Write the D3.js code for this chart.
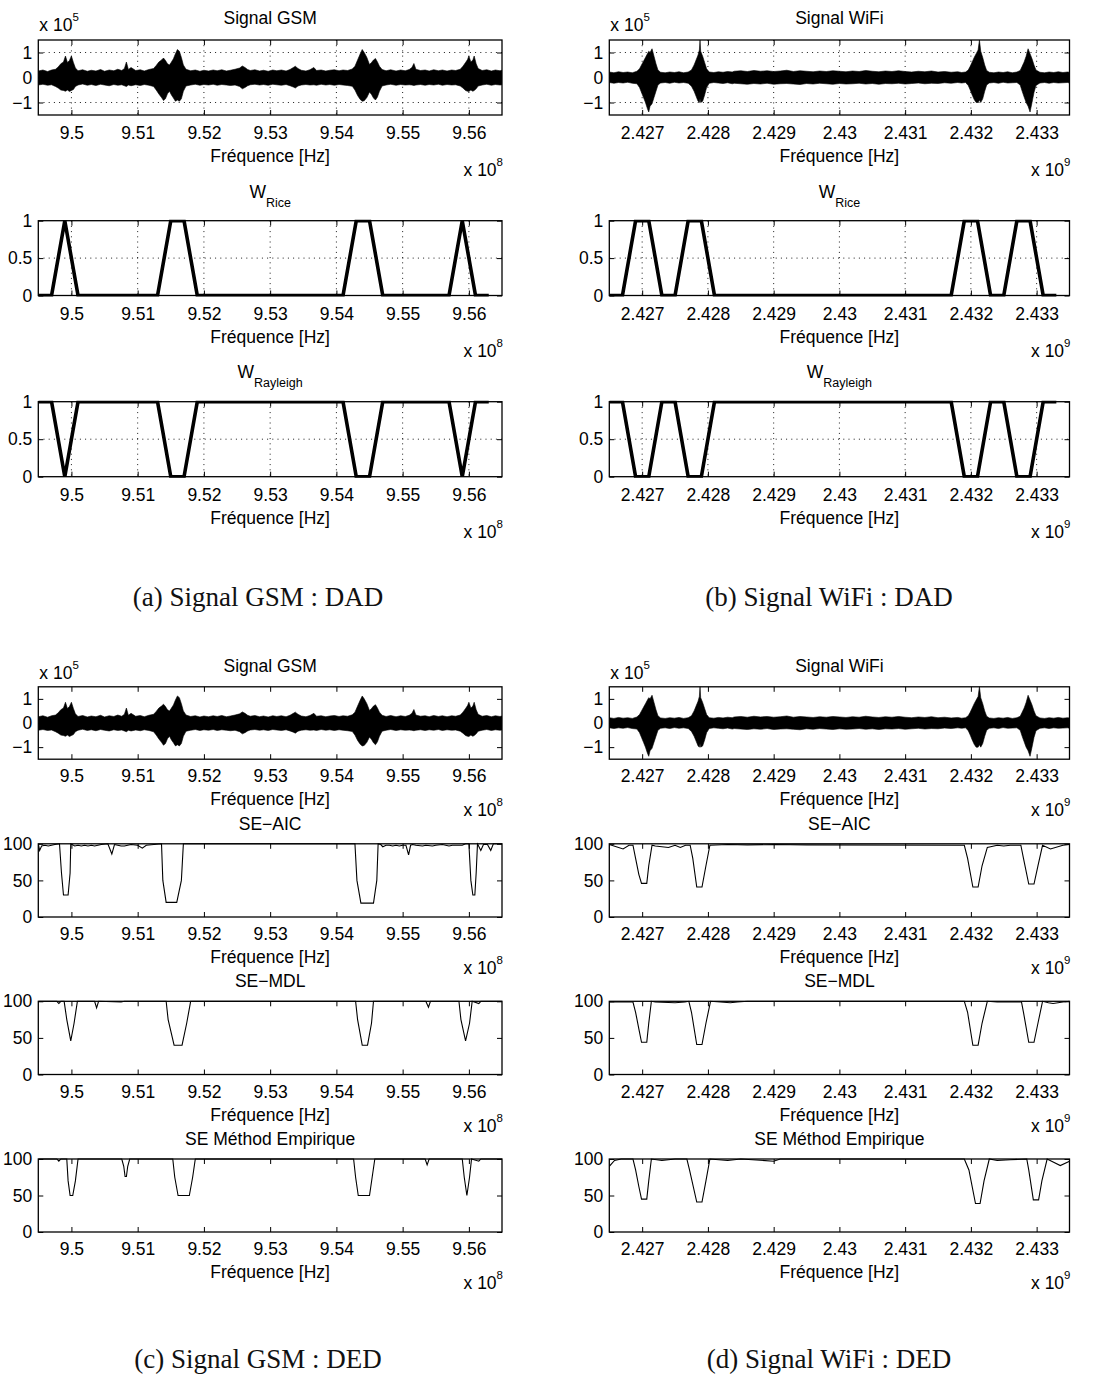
<!DOCTYPE html>
<html><head><meta charset="utf-8">
<script src="https://cdn.jsdelivr.net/npm/d3@7"></script>
<style>
html,body{margin:0;padding:0;background:#fff;}
svg{display:block;}
</style></head><body>
<script>
// ---------------- DATA ----------------
// x ticks
const gsmTicks = [9.50, 9.51, 9.52, 9.53, 9.54, 9.55, 9.56];
const gsmTickLabels = ["9.5", "9.51", "9.52", "9.53", "9.54", "9.55", "9.56"];
const wifiTicks = [2.427, 2.428, 2.429, 2.430, 2.431, 2.432, 2.433];
const wifiTickLabels = ["2.427", "2.428", "2.429", "2.43", "2.431", "2.432", "2.433"];
// y ticks
const sigTicks = [-1, 0, 1];
const sigTickLabels = ["\u22121", "0", "1"];
const wTicks = [0, 0.5, 1];
const wTickLabels = ["0", "0.5", "1"];
const seTicks = [0, 50, 100];
const seTickLabels = ["0", "50", "100"];

// Signal envelopes [freq (x1e8 / x1e9), upper, lower] (x1e5)
const gsmSignal = [
[9.495,.26,-.30],[9.4957,.30,-.27],[9.4964,.24,-.31],[9.497,.30,-.29],[9.4976,.33,-.36],[9.498,.42,-.42],
[9.4984,.55,-.50],[9.4988,.62,-.52],[9.4991,.86,-.55],[9.4994,.60,-.50],[9.4997,.68,-.56],[9.5,.86,-.52],
[9.5003,.60,-.48],[9.5006,.38,-.36],[9.501,.27,-.30],[9.5017,.31,-.26],[9.5024,.25,-.31],[9.503,.29,-.28],
[9.5037,.26,-.32],[9.5044,.32,-.27],[9.505,.25,-.30],[9.5057,.30,-.33],[9.5064,.27,-.28],[9.507,.33,-.31],
[9.5076,.28,-.29],[9.508,.36,-.33],[9.5083,.62,-.36],[9.5086,.32,-.30],[9.509,.40,-.33],[9.5097,.28,-.29],
[9.5104,.31,-.32],[9.511,.26,-.28],[9.5117,.32,-.31],[9.5124,.36,-.36],[9.5128,.48,-.50],[9.5132,.62,-.66],
[9.5136,.70,-.80],[9.5139,.78,-.92],[9.5142,.68,-.85],[9.5145,.55,-.65],[9.5148,.50,-.55],[9.5151,.62,-.70],
[9.5154,.75,-.82],[9.5157,.95,-.95],[9.516,1.12,-.90],[9.5163,1.05,-.95],[9.5166,.80,-.85],[9.5169,.50,-.55],
[9.5173,.33,-.34],[9.518,.27,-.30],[9.5187,.30,-.27],[9.5194,.25,-.31],[9.52,.29,-.28],[9.5207,.26,-.30],
[9.5214,.30,-.27],[9.522,.27,-.31],[9.5227,.31,-.28],[9.5234,.26,-.30],[9.524,.29,-.32],[9.5247,.33,-.30],
[9.5254,.38,-.36],[9.5258,.46,-.45],[9.5262,.40,-.40],[9.5266,.32,-.33],[9.527,.28,-.29],[9.5277,.31,-.27],
[9.5284,.26,-.30],[9.529,.29,-.28],[9.5297,.25,-.31],[9.5304,.30,-.27],[9.531,.27,-.29],[9.5317,.30,-.31],
[9.5324,.26,-.28],[9.533,.32,-.33],[9.5335,.40,-.38],[9.5338,.45,-.42],[9.5342,.36,-.34],[9.5347,.29,-.30],
[9.5354,.26,-.28],[9.536,.31,-.30],[9.5366,.40,-.29],[9.537,.28,-.31],[9.5377,.30,-.27],[9.5384,.26,-.30],
[9.539,.29,-.28],[9.5397,.31,-.31],[9.5404,.27,-.28],[9.541,.30,-.30],[9.5417,.28,-.32],[9.5424,.34,-.35],
[9.5428,.45,-.50],[9.5432,.70,-.72],[9.5436,.95,-.88],[9.5439,1.12,-.95],[9.5442,1.00,-.93],[9.5446,.80,-.80],
[9.545,.52,-.58],[9.5453,.60,-.68],[9.5456,.70,-.82],[9.5459,.76,-.90],[9.5462,.62,-.78],[9.5465,.45,-.55],
[9.5469,.32,-.34],[9.5475,.27,-.30],[9.5482,.31,-.27],[9.549,.26,-.31],[9.5497,.30,-.28],[9.5504,.27,-.30],
[9.551,.32,-.29],[9.5514,.40,-.30],[9.5517,.56,-.32],[9.552,.33,-.30],[9.5527,.28,-.28],[9.5534,.30,-.31],
[9.554,.26,-.28],[9.5547,.31,-.30],[9.5554,.27,-.27],[9.556,.30,-.31],[9.5567,.26,-.28],[9.5574,.30,-.30],
[9.558,.28,-.29],[9.5587,.33,-.34],[9.5591,.45,-.42],[9.5595,.60,-.52],[9.5598,.72,-.55],[9.56,.86,-.56],
[9.5603,.62,-.50],[9.5606,.70,-.55],[9.5608,.86,-.52],[9.5611,.55,-.45],[9.5614,.36,-.34],[9.562,.28,-.30],
[9.5627,.31,-.27],[9.5634,.26,-.31],[9.564,.30,-.28],[9.5647,.27,-.30],[9.565,.29,-.29]
];
const wifiSignal = [
[2.4265,.22,-.20],[2.42657,.19,-.23],[2.42664,.23,-.20],[2.42671,.20,-.22],[2.42678,.22,-.19],[2.42685,.19,-.23],
[2.42692,.25,-.25],[2.42696,.35,-.40],[2.42699,.50,-.60],[2.42702,.65,-.80],[2.42705,.80,-1.0],[2.42708,.95,-1.25],
[2.4271,1.05,-1.38],[2.42712,1.0,-1.15],[2.42715,1.15,-1.05],[2.42718,.85,-.80],[2.42721,.55,-.55],[2.42724,.30,-.30],
[2.42728,.21,-.22],[2.42735,.19,-.20],[2.42742,.22,-.23],[2.42749,.20,-.19],[2.42756,.23,-.22],[2.42763,.19,-.20],
[2.4277,.22,-.23],[2.42775,.30,-.35],[2.42779,.50,-.55],[2.42782,.70,-.75],[2.42785,.90,-.95],[2.42787,1.10,-1.00],
[2.42788,1.50,-.85],[2.42789,1.05,-1.00],[2.42792,.85,-.95],[2.42795,.60,-.70],[2.42798,.35,-.40],[2.42802,.22,-.23],
[2.42809,.20,-.20],[2.42816,.23,-.22],[2.42823,.21,-.24],[2.4283,.24,-.21],[2.42837,.22,-.25],[2.4284,.25,-.23],
[2.4285,.27,-.25],[2.4286,.24,-.27],[2.4287,.28,-.24],[2.4288,.25,-.26],[2.4289,.27,-.23],[2.429,.24,-.27],
[2.4291,.26,-.25],[2.4292,.29,-.24],[2.4293,.24,-.26],[2.4294,.27,-.28],[2.4295,.25,-.24],[2.4296,.23,-.26],
[2.4297,.26,-.23],[2.4298,.24,-.25],[2.4299,.27,-.27],[2.43,.25,-.24],[2.4301,.23,-.26],[2.4302,.26,-.25],
[2.4303,.24,-.23],[2.4304,.28,-.26],[2.4305,.25,-.24],[2.4306,.23,-.27],[2.4307,.26,-.24],[2.4308,.24,-.25],
[2.4309,.27,-.23],[2.431,.24,-.26],[2.4311,.22,-.24],[2.4312,.25,-.22],[2.4313,.23,-.25],[2.4314,.26,-.23],
[2.4315,.22,-.24],[2.4316,.24,-.21],[2.4317,.21,-.23],[2.4318,.23,-.20],[2.43186,.20,-.22],[2.43192,.22,-.20],
[2.43196,.30,-.32],[2.43199,.45,-.50],[2.43202,.62,-.70],[2.43205,.80,-.88],[2.43208,.95,-1.0],[2.43211,1.10,-1.0],
[2.43213,1.50,-.90],[2.43215,1.05,-1.0],[2.43218,.80,-.85],[2.43221,.50,-.55],[2.43224,.28,-.30],[2.43228,.21,-.22],
[2.43235,.19,-.20],[2.43242,.22,-.23],[2.43249,.20,-.19],[2.43256,.23,-.22],[2.43263,.19,-.21],[2.4327,.22,-.20],
[2.43275,.28,-.30],[2.43278,.45,-.55],[2.43281,.62,-.78],[2.43284,.85,-1.0],[2.43287,1.15,-1.15],[2.4329,.95,-1.38],
[2.43293,.75,-1.0],[2.43296,.50,-.60],[2.43299,.30,-.32],[2.43305,.21,-.22],[2.43312,.19,-.20],[2.43319,.22,-.23],
[2.43326,.20,-.20],[2.43333,.23,-.22],[2.4334,.20,-.21],[2.43347,.22,-.20],[2.4335,.21,-.22]
];

// DAD decision maps [freq, value]
const gsmRice = [[9.495,0],[9.497,0],[9.499,1],[9.501,0],[9.513,0],[9.515,1],[9.517,1],[9.519,0],
  [9.541,0],[9.543,1],[9.545,1],[9.547,0],[9.557,0],[9.559,1],[9.561,0],[9.563,0]];
const gsmRayleigh = [[9.495,1],[9.497,1],[9.499,0],[9.501,1],[9.513,1],[9.515,0],[9.517,0],[9.519,1],
  [9.541,1],[9.543,0],[9.545,0],[9.547,1],[9.557,1],[9.559,0],[9.561,1],[9.563,1]];
const wifiRice = [[2.4265,0],[2.4267,0],[2.4269,1],[2.4271,1],[2.4273,0],[2.4275,0],[2.4277,1],[2.4279,1],[2.4281,0],
  [2.4317,0],[2.4319,1],[2.4321,1],[2.4323,0],[2.4325,0],[2.4327,1],[2.4329,1],[2.4331,0],[2.4333,0]];
const wifiRayleigh = [[2.4265,1],[2.4267,1],[2.4269,0],[2.4271,0],[2.4273,1],[2.4275,1],[2.4277,0],[2.4279,0],[2.4281,1],
  [2.4317,1],[2.4319,0],[2.4321,0],[2.4323,1],[2.4325,1],[2.4327,0],[2.4329,0],[2.4331,1],[2.4333,1]];

// DED detection rates [freq, %]
const gsmAIC = [[9.495,100],[9.4952,91],[9.4955,97],[9.496,98],[9.4965,97],[9.497,98],[9.4975,99],[9.4982,100],
  [9.4985,60],[9.4988,30],[9.4995,30],[9.4998,60],[9.4999,100],[9.5005,97],[9.501,98],[9.5015,97],[9.502,98],
  [9.5025,97],[9.503,98],[9.5035,97],[9.504,98],[9.5045,99],[9.5055,100],[9.5061,86],[9.5065,99],[9.507,98],
  [9.5075,97],[9.508,97],[9.5085,98],[9.509,99],[9.51,98],[9.5107,94],[9.5113,98],[9.5136,100],[9.5138,50],
  [9.5143,20],[9.5159,20],[9.5166,50],[9.5169,100],[9.5428,100],[9.5431,50],[9.5437,19],[9.5456,19],[9.5461,50],
  [9.5463,100],[9.5467,99],[9.547,96],[9.5475,98],[9.548,98],[9.5485,97],[9.549,98],[9.5495,97],[9.55,98],
  [9.5505,98],[9.5509,85],[9.5512,98],[9.5515,99],[9.552,98],[9.553,97],[9.5535,98],[9.5545,97],[9.555,98],
  [9.556,99],[9.557,97],[9.5575,98],[9.559,98],[9.5595,100],[9.56,100],[9.5603,50],[9.5606,30],[9.5609,30],
  [9.5611,60],[9.5613,100],[9.5618,91],[9.5622,99],[9.5628,99],[9.5633,91],[9.5637,100],[9.565,100]];
const gsmMDL = [[9.495,100],[9.4978,100],[9.4981,97],[9.4984,100],[9.4989,100],[9.4993,75],[9.4999,46],[9.5004,70],
  [9.5009,100],[9.5035,100],[9.5038,91],[9.5041,100],[9.5075,99],[9.508,100],[9.5143,100],[9.5146,75],[9.5155,40],
  [9.5167,40],[9.5174,70],[9.518,100],[9.5429,100],[9.5432,75],[9.5439,40],[9.5447,40],[9.5453,70],[9.5456,100],
  [9.5535,100],[9.5539,92],[9.5542,100],[9.5585,100],[9.5588,75],[9.5595,46],[9.5601,70],[9.5605,100],[9.5615,97],
  [9.5618,100],[9.565,100]];
const gsmEmp = [[9.495,100],[9.4978,100],[9.4981,97],[9.4984,100],[9.4993,100],[9.4995,70],[9.4998,50],[9.5002,50],
  [9.5006,70],[9.501,100],[9.5076,100],[9.5079,90],[9.5081,76],[9.5083,76],[9.5085,90],[9.5088,100],[9.5153,100],
  [9.5156,75],[9.5161,50],[9.5178,50],[9.5183,75],[9.5187,100],[9.5426,100],[9.5429,75],[9.5433,50],[9.545,50],
  [9.5454,75],[9.5458,100],[9.5534,100],[9.5537,92],[9.554,100],[9.559,100],[9.5593,75],[9.5597,50],[9.5601,75],
  [9.5604,100],[9.5615,97],[9.5618,100],[9.565,100]];
const wifiAIC = [[2.4265,99],[2.42671,93],[2.4268,98],[2.42686,98],[2.4269,80],[2.42695,58],[2.42699,46],[2.42707,46],
  [2.4271,70],[2.42715,98],[2.4272,97],[2.4274,95],[2.4275,98],[2.42758,95],[2.42766,98],[2.42773,98],[2.42777,80],
  [2.42783,41],[2.42791,41],[2.42797,70],[2.42803,98],[2.4283,99],[2.4286,98.5],[2.429,99],[2.4295,98.5],
  [2.4319,98],[2.43195,80],[2.43203,41],[2.43211,41],[2.43217,70],[2.43225,95],[2.4323,96],[2.4324,98],[2.4325,97],
  [2.4326,98],[2.43276,98],[2.4328,80],[2.43288,45],[2.43296,45],[2.43302,70],[2.43309,98],[2.43321,93],
  [2.4334,98],[2.4335,99]];
const wifiMDL = [[2.4265,99],[2.42686,99],[2.4269,85],[2.42695,62],[2.42699,44],[2.42707,44],[2.4271,70],[2.42714,100],
  [2.4272,99],[2.4275,98],[2.42765,99],[2.42771,100],[2.42775,85],[2.42783,41],[2.42791,41],[2.42797,70],[2.42804,100],
  [2.42834,98],[2.42845,99],[2.4286,100],[2.4319,100],[2.43195,85],[2.43203,40],[2.43211,40],[2.43217,70],
  [2.43225,100],[2.4324,99],[2.43277,99],[2.4328,85],[2.43288,44],[2.43296,44],[2.43302,70],[2.43309,100],
  [2.43318,98],[2.43325,97],[2.4334,99],[2.4335,100]];
const wifiEmp = [[2.4265,90],[2.42658,98],[2.42668,100],[2.42686,100],[2.4269,85],[2.42695,62],[2.42699,45],[2.42707,45],
  [2.4271,70],[2.42714,100],[2.4273,98],[2.4275,100],[2.42768,100],[2.42772,85],[2.42783,41],[2.42791,41],
  [2.42797,70],[2.42803,100],[2.4283,98],[2.4285,100],[2.429,97],[2.4291,100],[2.4319,100],[2.43197,85],
  [2.43207,39],[2.43214,39],[2.4322,70],[2.43228,100],[2.4324,98],[2.4326,99],[2.43285,100],[2.43288,85],
  [2.43295,44],[2.43303,44],[2.43308,70],[2.43316,100],[2.43336,91],[2.4335,97]];

// ---------------- DRAWING ----------------
const SANS = "'Liberation Sans', Arial, Helvetica, sans-serif";
const SERIF = "'Liberation Serif', 'Times New Roman', Times, serif";
const FS = 17.5;
const svg = d3.select('body').append('svg').attr('width', 1103).attr('height', 1380)
  .style('background', '#fff');
const defs = svg.append('defs');
let clipN = 0;

const COL = {
  L: {x0: 38.3, x1: 502, xDomain: [9.495, 9.565], ticks: gsmTicks, labels: gsmTickLabels, xexp: "8"},
  R: {x0: 609.3, x1: 1069.5, xDomain: [2.4265, 2.4335], ticks: wifiTicks, labels: wifiTickLabels, xexp: "9"}
};

function plot(o) {
  const c = COL[o.col];
  const x = d3.scaleLinear().domain(c.xDomain).range([c.x0, c.x1]);
  const y = d3.scaleLinear().domain(o.yDomain).range([o.y1, o.y0]);
  const g = svg.append('g');
  const id = 'clip' + (++clipN);
  defs.append('clipPath').attr('id', id).append('rect')
    .attr('x', c.x0).attr('y', o.y0 - 1).attr('width', c.x1 - c.x0).attr('height', o.y1 - o.y0 + 2);

  if (o.grid) {
    const gg = g.append('g').attr('stroke', '#000').attr('stroke-width', 0.9)
      .attr('stroke-dasharray', '1,4.2');
    gg.selectAll('line.gx').data(c.ticks).enter().append('line')
      .attr('x1', d => x(d)).attr('x2', d => x(d)).attr('y1', o.y0).attr('y2', o.y1);
    gg.selectAll('line.gy').data(o.yTicks.filter(v => v > o.yDomain[0] && v < o.yDomain[1])).enter().append('line')
      .attr('x1', c.x0).attr('x2', c.x1).attr('y1', d => y(d)).attr('y2', d => y(d));
  }

  const mg = g.append('g').attr('clip-path', `url(#${id})`);
  if (o.area) {
    const ar = d3.area().x(d => x(d[0])).y0(d => y(d[2])).y1(d => y(d[1]));
    mg.append('path').datum(o.area).attr('d', ar).attr('fill', '#000').attr('stroke', '#000').attr('stroke-width', 0.6);
  }
  if (o.line) {
    const ln = d3.line().x(d => x(d[0])).y(d => y(d[1]));
    mg.append('path').datum(o.line).attr('d', ln).attr('fill', 'none')
      .attr('stroke', '#000').attr('stroke-width', o.lw).attr('stroke-linejoin', 'miter');
  }

  // axes (inward ticks on all four sides)
  const fmtX = (d, i) => c.labels[i];
  const fmtY = (d, i) => o.yLabels[i];
  const axB = g.append('g').attr('transform', `translate(0,${o.y1})`)
    .call(d3.axisBottom(x).tickValues(c.ticks).tickFormat(fmtX).tickSizeInner(-5).tickSizeOuter(0).tickPadding(o.tickPad));
  const axT = g.append('g').attr('transform', `translate(0,${o.y0})`)
    .call(d3.axisTop(x).tickValues(c.ticks).tickFormat('').tickSizeInner(-5).tickSizeOuter(0));
  const axL = g.append('g').attr('transform', `translate(${c.x0},0)`)
    .call(d3.axisLeft(y).tickValues(o.yTicks).tickFormat(fmtY).tickSizeInner(-5).tickSizeOuter(0).tickPadding(6));
  const axR = g.append('g').attr('transform', `translate(${c.x1},0)`)
    .call(d3.axisRight(y).tickValues(o.yTicks).tickFormat('').tickSizeInner(-5).tickSizeOuter(0));
  [axB, axT, axL, axR].forEach(a => {
    a.attr('font-family', SANS).attr('font-size', FS);
    a.select('.domain').remove();
    a.selectAll('.tick line').attr('stroke', '#000').attr('stroke-width', 1);
    a.selectAll('.tick text').attr('fill', '#000');
  });

  // box
  g.append('rect').attr('x', c.x0).attr('y', o.y0).attr('width', c.x1 - c.x0).attr('height', o.y1 - o.y0)
    .attr('fill', 'none').attr('stroke', '#000').attr('stroke-width', 1.3);

  const cx = (c.x0 + c.x1) / 2;
  // title
  const t = g.append('text').attr('x', cx).attr('y', o.y0 + o.titleDy).attr('text-anchor', 'middle')
    .attr('font-family', SANS).attr('font-size', FS).attr('fill', '#000').text(o.title);
  if (o.sub) t.append('tspan').attr('font-size', 12.5).attr('dy', 9).text(o.sub);

  // x label
  g.append('text').attr('x', cx).attr('y', o.y1 + o.xlabDy).attr('text-anchor', 'middle')
    .attr('font-family', SANS).attr('font-size', FS).attr('fill', '#000').text('Fréquence [Hz]');
  // x exponent
  const xe = g.append('text').attr('x', c.x1 + 1).attr('y', o.y1 + o.xexpDy).attr('text-anchor', 'end')
    .attr('font-family', SANS).attr('font-size', FS).attr('fill', '#000').text('x 10');
  xe.append('tspan').attr('font-size', 11.5).attr('dy', -10).text(c.xexp);
  // y exponent
  if (o.yexp) {
    const ye = g.append('text').attr('x', c.x0 + 1).attr('y', o.y0 + o.yexpDy)
      .attr('font-family', SANS).attr('font-size', FS).attr('fill', '#000').text('x 10');
    ye.append('tspan').attr('font-size', 11.5).attr('dy', -10).text(o.yexp);
  }
}

// Top half: DAD
const topRows = [
  {y0: 40, y1: 115, kind: 'sig'},
  {y0: 220.7, y1: 295.5, kind: 'rice'},
  {y0: 401.7, y1: 476.7, kind: 'ray'}
];
const botRows = [
  {y0: 686.8, y1: 759.2, kind: 'sig'},
  {y0: 843.8, y1: 917, kind: 'aic'},
  {y0: 1001.3, y1: 1074.5, kind: 'mdl'},
  {y0: 1159, y1: 1232, kind: 'emp'}
];

const sigData = {L: gsmSignal, R: wifiSignal};
const sigTitle = {L: 'Signal GSM', R: 'Signal WiFi'};
const riceData = {L: gsmRice, R: wifiRice};
const rayData = {L: gsmRayleigh, R: wifiRayleigh};
const seData = {aic: {L: gsmAIC, R: wifiAIC}, mdl: {L: gsmMDL, R: wifiMDL}, emp: {L: gsmEmp, R: wifiEmp}};
const seTitle = {aic: 'SE\u2212AIC', mdl: 'SE\u2212MDL', emp: 'SE Méthod Empirique'};

['L', 'R'].forEach(col => {
  topRows.forEach(r => {
    const base = {col, y0: r.y0, y1: r.y1, grid: true, tickPad: 11.8, xlabDy: 47, xexpDy: 61};
    if (r.kind === 'sig') plot(Object.assign(base, {yDomain: [-1.5, 1.5], yTicks: sigTicks, yLabels: sigTickLabels,
      area: sigData[col], title: sigTitle[col], titleDy: -16, yexp: '5', yexpDy: -9}));
    if (r.kind === 'rice') plot(Object.assign(base, {yDomain: [0, 1], yTicks: wTicks, yLabels: wTickLabels,
      line: riceData[col], lw: 3.6, title: 'W', sub: 'Rice', titleDy: -23}));
    if (r.kind === 'ray') plot(Object.assign(base, {yDomain: [0, 1], yTicks: wTicks, yLabels: wTickLabels,
      line: rayData[col], lw: 3.6, title: 'W', sub: 'Rayleigh', titleDy: -24}));
  });
  botRows.forEach(r => {
    const base = {col, y0: r.y0, y1: r.y1, grid: false, tickPad: 10.8, xlabDy: 46, xexpDy: 57};
    if (r.kind === 'sig') plot(Object.assign(base, {yDomain: [-1.5, 1.5], yTicks: sigTicks, yLabels: sigTickLabels,
      area: sigData[col], title: sigTitle[col], titleDy: -15, yexp: '5', yexpDy: -8}));
    else plot(Object.assign(base, {yDomain: [0, 100], yTicks: seTicks, yLabels: seTickLabels,
      line: seData[r.kind][col], lw: 1.1, title: seTitle[r.kind], titleDy: -14}));
  });
});

// captions
const captions = [
  {t: '(a) Signal GSM : DAD', x: 258, y: 606},
  {t: '(b) Signal WiFi : DAD', x: 829, y: 606},
  {t: '(c) Signal GSM : DED', x: 258, y: 1368},
  {t: '(d) Signal WiFi : DED', x: 829, y: 1368}
];
svg.selectAll('text.cap').data(captions).enter().append('text').attr('class', 'cap')
  .attr('x', d => d.x).attr('y', d => d.y).attr('text-anchor', 'middle')
  .attr('font-family', SERIF).attr('font-size', 27).attr('fill', '#111').text(d => d.t);
</script>
</body></html>
